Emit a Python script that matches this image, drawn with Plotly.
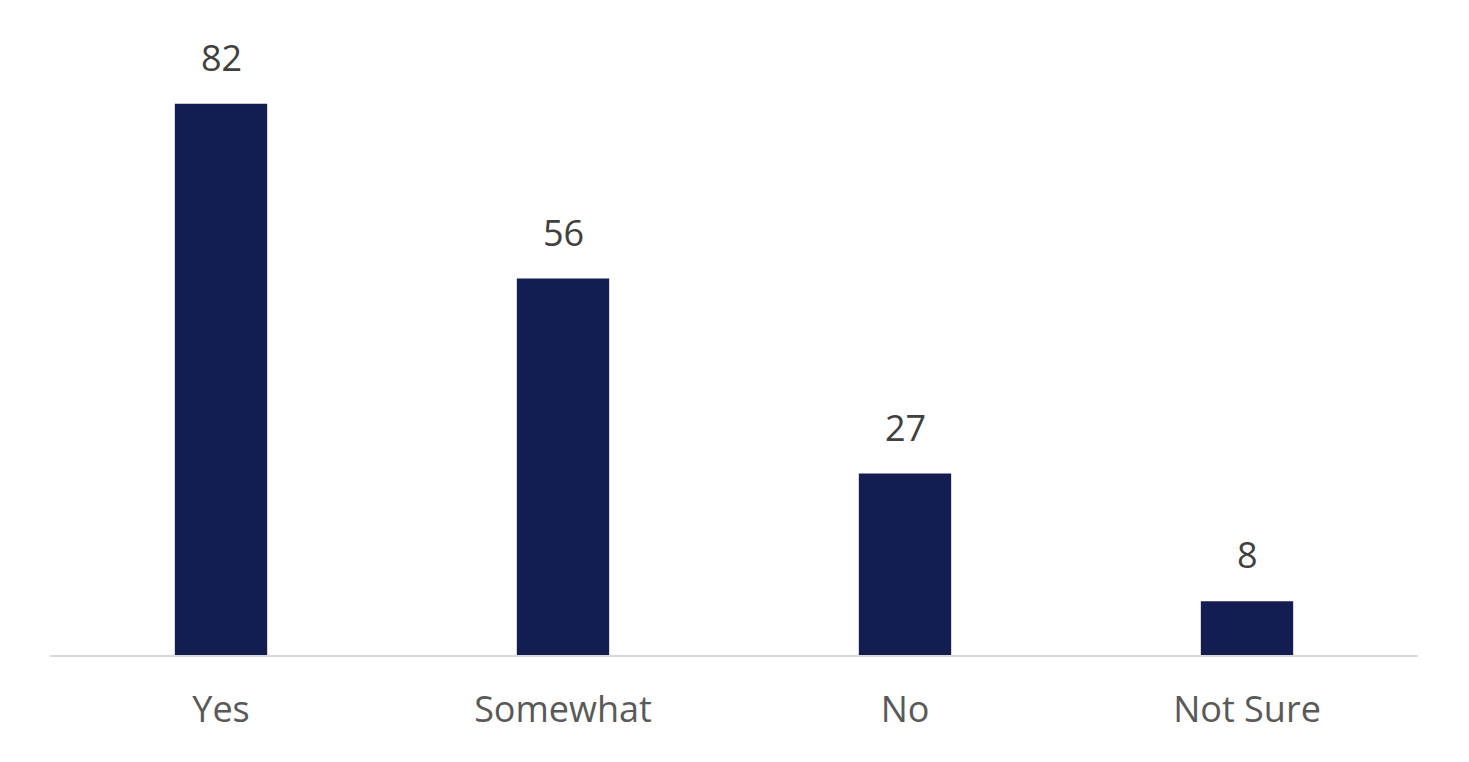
import plotly.graph_objects as go

categories = ["Yes", "Somewhat", "No", "Not Sure"]
values = [82, 56, 27, 8]

BAR_COLOR = "#141D4F"
FONT = "Open Sans"

fig = go.Figure(
    go.Bar(
        x=categories,
        y=values,
        marker=dict(color=BAR_COLOR, line=dict(width=0)),
        width=0.27,
        hoverinfo="x+y",
    )
)

for c, v in zip(categories, values):
    fig.add_annotation(
        x=c, y=v, text=str(v), showarrow=False,
        yanchor="bottom", yshift=20,
        font=dict(family=FONT, size=36, color="#404040"),
    )

fig.update_layout(
    width=1469, height=762,
    margin=dict(l=42, r=59, t=42, b=115),
    paper_bgcolor="white", plot_bgcolor="white",
    showlegend=False,
    bargap=0.73,
)
fig.update_xaxes(
    showline=True, linecolor="#D9D9D9", linewidth=2,
    ticks="outside", ticklen=22, tickcolor="rgba(0,0,0,0)",
    tickfont=dict(family=FONT, size=36, color="#595959"),
    showgrid=False,
)
fig.update_yaxes(range=[0, 90], visible=False, showgrid=False)

fig.write_html("out.html")
